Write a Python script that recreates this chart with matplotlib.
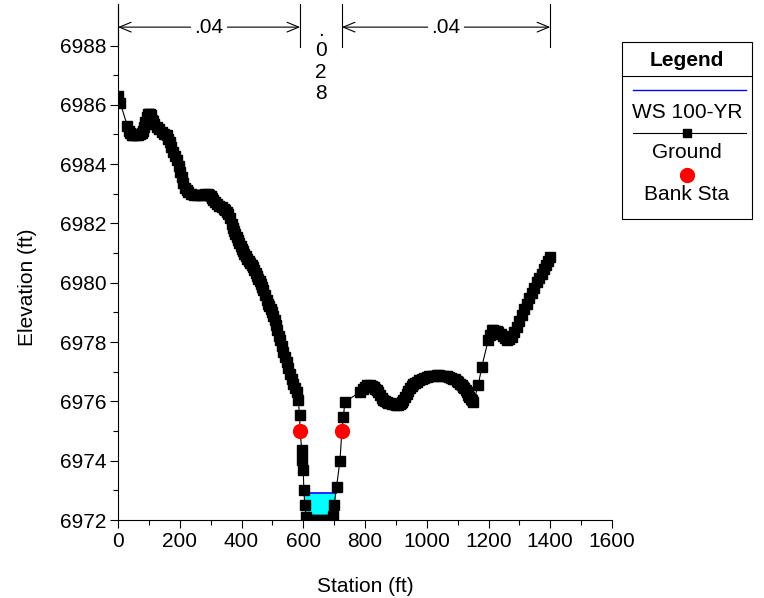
import numpy as np
import matplotlib
matplotlib.use("Agg")
import matplotlib.pyplot as plt
from matplotlib.patches import Rectangle

plt.rcParams['font.family'] = ['Liberation Sans', 'DejaVu Sans']

# ground survey points (station ft, elevation ft)
station = [0, 8, 30, 35, 40, 45, 50, 58, 66, 72, 78, 82, 85, 89, 93, 97, 100, 103, 106, 109,
           112, 118, 125, 133, 142, 150, 158, 163, 168, 173, 179, 185, 190, 196, 201, 206,
           212, 217, 222, 228, 235, 245, 255, 265, 276, 283, 290, 295, 300, 305, 309, 315,
           320, 328, 336, 342, 347, 352, 357, 362, 368, 372, 376, 380, 384, 388, 392, 397,
           401, 405, 409, 413, 417, 423, 428, 433, 438, 442, 446, 450, 454, 459, 463, 467,
           471, 476, 482, 486, 490, 494, 498, 503, 508, 511, 514, 520, 525, 530, 535, 540,
           546, 551, 557, 562, 568, 574, 579, 584, 588, 590, 595, 597, 600, 602, 605, 609,
           618, 632, 646, 660, 674, 688, 697, 700, 708, 719, 725, 730, 735,
           784, 792, 800, 808, 816, 822, 828, 833, 838, 843, 848, 854, 859, 865, 870, 876,
           881, 888, 895, 902, 908, 912, 916, 920, 924, 930, 935, 940, 946, 951, 956, 962,
           967, 975, 983, 991, 1000, 1008, 1016, 1024, 1032, 1040, 1048, 1056, 1065, 1071,
           1078, 1085, 1091, 1097, 1102, 1108, 1113, 1118, 1122, 1126, 1129, 1134, 1138,
           1142, 1146, 1151, 1167, 1178,
           1199, 1204, 1210, 1215, 1221, 1226, 1232, 1239, 1246, 1252, 1259, 1267, 1275,
           1283, 1291, 1300, 1308, 1316, 1324, 1332, 1340, 1348, 1356, 1364, 1372, 1379,
           1386, 1393, 1399]
elevation = [6986.30, 6986.05, 6985.30, 6985.12, 6985.05, 6984.98, 6984.98, 6984.97, 6984.98,
             6985.02, 6985.05, 6985.12, 6985.25, 6985.42, 6985.58, 6985.68, 6985.70, 6985.70,
             6985.65, 6985.50, 6985.45, 6985.35, 6985.25, 6985.18, 6985.08, 6985.02, 6984.97,
             6984.86, 6984.74, 6984.58, 6984.40, 6984.28, 6984.15, 6983.95, 6983.75, 6983.55,
             6983.35, 6983.20, 6983.12, 6983.06, 6983.00, 6982.96, 6982.95, 6982.96, 6982.97,
             6983.00, 6983.00, 6982.97, 6982.92, 6982.85, 6982.78, 6982.72, 6982.67, 6982.60,
             6982.55, 6982.50, 6982.45, 6982.40, 6982.33, 6982.18, 6981.99, 6981.86, 6981.75,
             6981.64, 6981.54, 6981.45, 6981.35, 6981.25, 6981.15, 6981.06, 6980.98, 6980.90,
             6980.81, 6980.72, 6980.65, 6980.59, 6980.53, 6980.43, 6980.33, 6980.24, 6980.14,
             6980.05, 6979.95, 6979.85, 6979.75, 6979.60, 6979.41, 6979.30, 6979.20, 6979.10,
             6979.02, 6978.88, 6978.74, 6978.58, 6978.40, 6978.22, 6978.06, 6977.87, 6977.67,
             6977.50, 6977.33, 6977.14, 6976.94, 6976.77, 6976.60, 6976.45, 6976.32, 6976.04,
             6975.54, 6975.00, 6974.36, 6974.02, 6973.68, 6973.00, 6972.50, 6972.10,
             6972.00, 6972.00, 6972.00, 6972.00, 6972.00, 6972.00, 6972.15, 6972.50, 6973.12,
             6974.00, 6975.00, 6975.48, 6975.98,
             6976.32, 6976.42, 6976.50, 6976.54, 6976.55, 6976.52, 6976.48, 6976.43, 6976.38,
             6976.30, 6976.20, 6976.11, 6976.04, 6976.00, 6975.97, 6975.95, 6975.93, 6975.91,
             6975.90, 6975.88, 6975.87, 6975.90, 6975.93, 6975.98, 6976.04, 6976.15, 6976.25,
             6976.35, 6976.44, 6976.51, 6976.57, 6976.62, 6976.66, 6976.71, 6976.76, 6976.80,
             6976.83, 6976.85, 6976.86, 6976.87, 6976.88, 6976.88, 6976.87, 6976.86, 6976.85,
             6976.83, 6976.80, 6976.77, 6976.74, 6976.70, 6976.65, 6976.60, 6976.55, 6976.50,
             6976.45, 6976.38, 6976.32, 6976.22, 6976.15, 6976.09, 6976.04, 6975.98, 6976.55,
             6977.16,
             6978.06, 6978.25, 6978.40, 6978.40, 6978.38, 6978.36, 6978.34, 6978.27, 6978.20,
             6978.13, 6978.06, 6978.10, 6978.17, 6978.33, 6978.51, 6978.70, 6978.90, 6979.10,
             6979.30, 6979.47, 6979.64, 6979.83, 6980.03, 6980.17, 6980.31, 6980.45, 6980.59,
             6980.74, 6980.87]

bank_sta = [590, 725]
bank_elev = [6975.0, 6975.0]
ws_elev = 6972.9

# manning's n zones
n_bounds = [0, 590, 725, 1400]
n_values = ['.04', '.028', '.04']

FS = 15

sta = np.array(station, dtype=float)
elev = np.array(elevation)

fig = plt.figure(figsize=(7.64, 5.98), dpi=100)
ax = fig.add_axes([118 / 764, 1 - 520 / 598, 494 / 764, 516 / 598])

# water in channel
inch = (sta > 560) & (sta < 760)
s_ch, e_ch = sta[inch], elev[inch]
ax.fill_between(s_ch, e_ch, ws_elev, where=e_ch <= ws_elev, interpolate=True,
                color='#00ffff', lw=0, zorder=1)
low = np.where(e_ch <= ws_elev)[0]
i0, i1 = low[0], low[-1]
x_left = np.interp(ws_elev, [e_ch[i0], e_ch[i0 - 1]], [s_ch[i0], s_ch[i0 - 1]])
x_right = np.interp(ws_elev, [e_ch[i1], e_ch[i1 + 1]], [s_ch[i1], s_ch[i1 + 1]])
ax.plot([x_left, x_right], [ws_elev, ws_elev], color='#0000ff', lw=1.2, zorder=2)

ax.plot(sta, elev, color='black', lw=0.8, marker='s', ms=6.5, mec='black', mfc='black', zorder=3)
ax.plot(bank_sta, bank_elev, ls='none', marker='o', ms=10, color='#ff0000', zorder=4)

# n value annotations
y_top, y_bot, y_arr = 6989.4, 6987.95, 6988.62
for b in n_bounds:
    ax.plot([b, b], [y_bot, y_top], color='black', lw=0.8, clip_on=False)
for (a, b), nv in zip(zip(n_bounds[:-1], n_bounds[1:]), n_values):
    mid = (a + b) / 2
    if b - a > 300:
        ax.annotate('', xy=(b, y_arr), xytext=(a, y_arr), annotation_clip=False,
                    arrowprops=dict(arrowstyle='<->,head_length=0.6,head_width=0.25',
                                    lw=0.8, color='black', shrinkA=0, shrinkB=0,
                                    mutation_scale=14))
        ax.text(mid, y_arr, nv, ha='center', va='center', fontsize=FS,
                bbox=dict(fc='white', ec='none', pad=2.5))
    else:
        for ch, yb in zip(nv, [6988.33, 6987.66, 6986.92, 6986.18]):
            ax.text(mid, yb, ch, ha='center', va='baseline', fontsize=FS)

ax.set_xlim(0, 1600)
ax.set_ylim(6972, y_top)
ax.set_xticks(np.arange(0, 1601, 200))
ax.set_xticks(np.arange(0, 1601, 100), minor=True)
ax.set_yticks(np.arange(6972, 6989, 2))
ax.set_yticks(np.arange(6973, 6989, 2), minor=True)
ax.tick_params(which='major', length=6, width=0.8, labelsize=FS, pad=2.5)
ax.tick_params(which='minor', length=3.5, width=0.8)
for s in ['top', 'right']:
    ax.spines[s].set_visible(False)
for s in ['left', 'bottom']:
    ax.spines[s].set_linewidth(0.8)

ax.set_xlabel('Station (ft)', fontsize=FS)
ax.set_ylabel('Elevation (ft)', fontsize=FS)
ax.xaxis.set_label_coords(0.5, -0.110)
ax.yaxis.set_label_coords(-0.164, 0.4506)

# legend box
lg = fig.add_axes([622 / 764, 1 - 219 / 598, 130 / 764, 177 / 598])
lg.set_xlim(0, 130)
lg.set_ylim(177, 0)
lg.axis('off')
lg.add_patch(Rectangle((0, 0), 130, 177, fill=False, ec='black', lw=0.8, clip_on=False))
lg.plot([0, 130], [34, 34], color='black', lw=0.8)
lg.text(65, 19, 'Legend', ha='center', va='center', fontsize=FS, fontweight='bold')
lg.plot([11, 124], [48, 48], color='#0000ff', lw=1)
lg.text(65, 70, 'WS 100-YR', ha='center', va='center', fontsize=FS)
lg.plot([11, 124], [91, 91], color='black', lw=0.8)
lg.plot([65], [91], marker='s', ms=6, color='black')
lg.text(65, 111, 'Ground', ha='center', va='center', fontsize=FS)
lg.plot([65], [133], marker='o', ms=10, color='#ff0000')
lg.text(65, 153, 'Bank Sta', ha='center', va='center', fontsize=FS)

fig.savefig('out.png', dpi=100)
